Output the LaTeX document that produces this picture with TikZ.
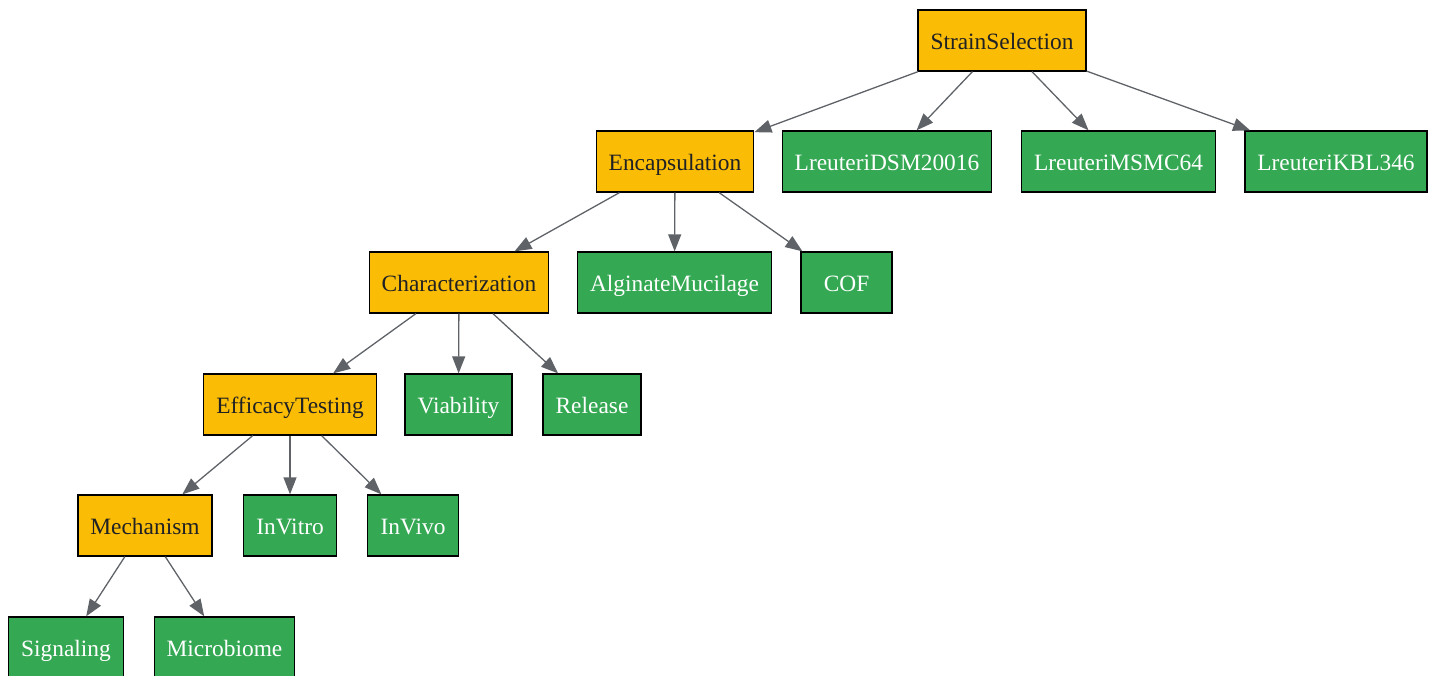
\documentclass[tikz,border=0pt]{standalone}
\usepackage{fontspec}
\setmainfont{Liberation Serif}
\usetikzlibrary{arrows.meta}

\definecolor{stepyellow}{HTML}{FBBC05}
\definecolor{leafgreen}{HTML}{34A853}
\definecolor{edgegray}{HTML}{5F6368}
\definecolor{textdark}{HTML}{202124}

\tikzset{
    box/.style={draw=black, line width=1.3pt, minimum height=61pt, minimum width=91pt,
        inner xsep=12.5pt, text height=19pt, text depth=2pt,
        font=\fontsize{23.4}{28}\selectfont},
    stage/.style={box, fill=stepyellow, text=textdark},
    leaf/.style={box, fill=leafgreen, text=white},
    link/.style={draw=edgegray, line width=1.3pt, -{Triangle[length=17pt,width=13pt]}}
}

\begin{document}
\begin{tikzpicture}[x=1pt,y=-1pt]
        \useasboundingbox (0,0) rectangle (1434,675);
        % Draw stages
        \node[stage] (strain) at (1002,40.5) {StrainSelection};
        \node[stage] (encap) at (675,161.5) {Encapsulation};
        \node[stage] (charac) at (459,282.5) {Characterization};
        \node[stage] (efficacy) at (290,404.5) {EfficacyTesting};
        \node[stage] (mechan) at (145,525.5) {Mechanism};

        % Draw leaves
        \node[leaf] (dsm) at (887,161.5) {LreuteriDSM20016};
        \node[leaf] (msmc) at (1118.5,161.5) {LreuteriMSMC64};
        \node[leaf] (kbl) at (1336,161.5) {LreuteriKBL346};
        \node[leaf] (alginate) at (674.5,282.5) {AlginateMucilage};
        \node[leaf] (cof) at (846.5,282.5) {COF};
        \node[leaf] (viab) at (458.5,404.5) {Viability};
        \node[leaf] (release) at (592,404.5) {Release};
        \node[leaf] (invitro) at (290,525.5) {InVitro};
        \node[leaf] (invivo) at (413,525.5) {InVivo};
        \node[leaf] (signal) at (66,647.5) {Signaling};
        \node[leaf] (microb) at (224.5,647.5) {Microbiome};

        % Draw links
        \draw[link] (strain) -- (encap);
        \draw[link] (strain) -- (dsm);
        \draw[link] (strain) -- (msmc);
        \draw[link] (strain) -- (kbl);
        \draw[link] (encap) -- (charac);
        \draw[link] (encap) -- (alginate);
        \draw[link] (encap) -- (cof);
        \draw[link] (charac) -- (efficacy);
        \draw[link] (charac) -- (viab);
        \draw[link] (charac) -- (release);
        \draw[link] (efficacy) -- (mechan);
        \draw[link] (efficacy) -- (invitro);
        \draw[link] (efficacy) -- (invivo);
        \draw[link] (mechan) -- (signal);
        \draw[link] (mechan) -- (microb);
    \end{tikzpicture}
\end{document}
